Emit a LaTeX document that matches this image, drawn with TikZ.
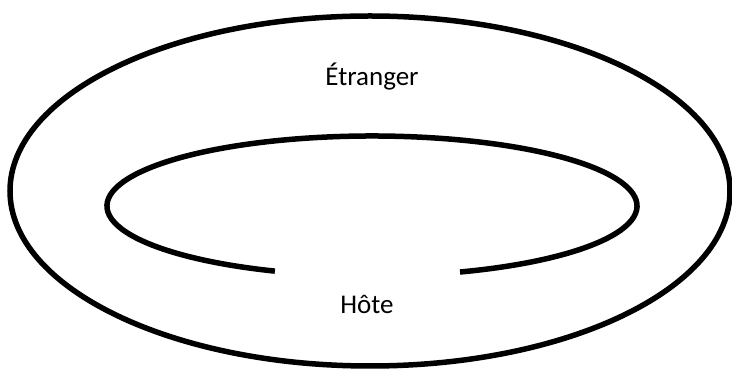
\documentclass[tikz,border=0pt]{standalone}
\usepackage{fontspec}
\setmainfont{Carlito}
\usepackage{tikz}
\usetikzlibrary{positioning}

\begin{document}
\begin{tikzpicture}[x=1pt,y=1pt,font=\fontsize{27}{32}\selectfont,
  ring/.style={draw=black,line width=5.5pt},
  label/.style={inner sep=0pt,align=center}
]
  \useasboundingbox (0,0) rectangle (732,369);
  % outer ring
  \draw[ring] (370,178) ellipse[x radius=360,y radius=175];
  % inner ring, open at the bottom
  \draw[ring] ([shift={(289.4:265 and 70)}]372,163) arc[start angle=289.4,end angle=608.5,x radius=265,y radius=70];
  \node[label] (etr) at (372,292) {Étranger};
  \node[label] (hote) at (367,65) {Hôte};
\end{tikzpicture}
\end{document}
